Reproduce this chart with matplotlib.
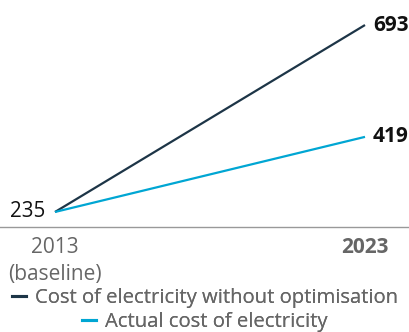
import matplotlib.pyplot as plt
from matplotlib.lines import Line2D

plt.rcParams['font.family'] = ['Open Sans', 'DejaVu Sans']

years = [2013, 2023]
without_opt = [235, 693]
actual = [235, 419]
labels = ['Cost of electricity without optimisation', 'Actual cost of electricity']
dark = '#1d3547'
cyan = '#00a6d3'

fig = plt.figure(figsize=(4.10, 3.32), dpi=100)
ax = fig.add_axes([0, 1 - 227 / 332, 1, 227 / 332])

ax.plot(years, without_opt, color=dark, lw=1.6, solid_capstyle='butt')
ax.plot(years, actual, color=cyan, lw=1.6, solid_capstyle='butt')

ax.set_xlim(2013 - 55 / 31, 2023 + 45 / 31)
ax.set_ylim(198.2, 754.3)

ax.text(years[0] - 0.3, without_opt[0], str(without_opt[0]), ha='right', va='center',
        fontsize=14.8, color='#111111')
ax.text(years[1] + 0.25, without_opt[1], str(without_opt[1]), ha='left', va='center',
        fontsize=15, fontweight='bold', color='#111111')
ax.text(years[1] + 0.25, actual[1], str(actual[1]), ha='left', va='center',
        fontsize=15, fontweight='bold', color='#111111')

for s in ['top', 'right', 'left']:
    ax.spines[s].set_visible(False)
ax.spines['bottom'].set_color('#999999')
ax.spines['bottom'].set_linewidth(1)
ax.set_yticks([])
ax.set_xticks(years)
ax.set_xticklabels(['2013\n(baseline)', '2023'], fontsize=15, color='#666666', linespacing=1.4)
ax.get_xticklabels()[1].set_fontweight('bold')
ax.tick_params(axis='x', length=0, pad=7)

for i, (lab, col) in enumerate(zip(labels, [dark, cyan])):
    h = Line2D([], [], color=col, lw=2.2)
    leg = fig.legend([h], [lab], loc='center', bbox_to_anchor=(0.5, (332 - 298 - 24 * i) / 332),
                     frameon=False, fontsize=14.6, handlelength=0.7, handletextpad=0.45,
                     borderpad=0, borderaxespad=0, labelcolor='#666666')
    fig.add_artist(leg)

fig.savefig('out.png', dpi=100)
